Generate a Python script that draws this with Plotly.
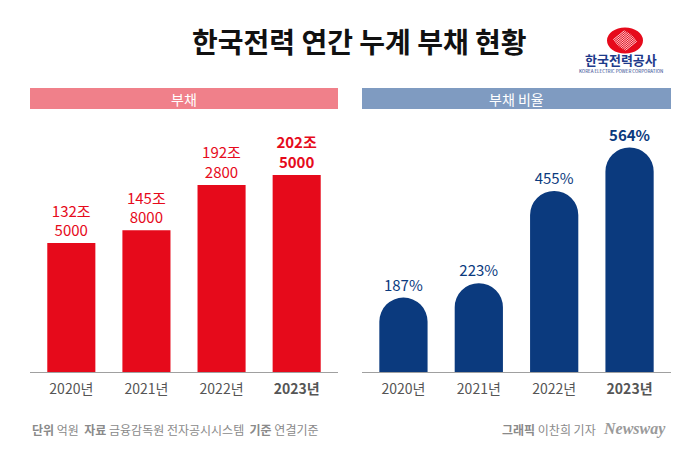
import math
import plotly.graph_objects as go

# ---------------- data ----------------
years = ["2020년", "2021년", "2022년", "2023년"]
debt_eok = [1325000, 1458000, 1922800, 2025000]      # 억원
debt_ratio = [187, 223, 455, 564]                   # %

title_text = "한국전력 연간 누계 부채 현황"
left_header = "부채"
right_header = "부채 비율"

# ---------------- style ----------------
W, H = 700, 450
FONT = "Noto Sans CJK KR"
RED = "#e60a1b"
NAVY = "#0b3a7e"
RED_HDR = "#f0808a"
BLUE_HDR = "#7f9bc1"

def px(x):
    return x / W

def py(y):
    return 1 - y / H

last = len(years) - 1
tick_text = [f"<b>{y}</b>" if i == last else y for i, y in enumerate(years)]
debt_text = []
for i, v in enumerate(debt_eok):
    s = f"{v // 10000}조<br>{v % 10000}"
    debt_text.append(f"<b>{s}</b>" if i == last else s)
ratio_text = [f"<b>{v}%</b>" if i == last else f"{v}%" for i, v in enumerate(debt_ratio)]

fig = go.Figure()
fig.add_trace(go.Bar(
    x=years, y=debt_eok, xaxis="x", yaxis="y",
    marker=dict(color=RED, line=dict(width=0)),
    text=debt_text, textposition="outside",
    textfont=dict(color=RED, size=15, family=FONT),
    cliponaxis=False, hoverinfo="skip", showlegend=False,
))
fig.add_trace(go.Bar(
    x=years, y=debt_ratio, xaxis="x2", yaxis="y2",
    marker=dict(color=NAVY, line=dict(width=0), cornerradius=24),
    text=ratio_text, textposition="outside",
    textfont=dict(color=NAVY, size=15, family=FONT),
    cliponaxis=False, hoverinfo="skip", showlegend=False,
))

y_bottom, y_top = 372, 130
xcommon = dict(
    type="category", range=[-0.55, 3.55], showline=True, linecolor="#a0a0a0",
    linewidth=1, ticks="", showgrid=False, zeroline=False,
    tickfont=dict(size=14, color="#555555", family=FONT),
    tickvals=years, ticktext=tick_text, fixedrange=True,
    ticklabelstandoff=4,
)
ycommon = dict(visible=False, showgrid=False, zeroline=False, fixedrange=True)

fig.update_layout(
    width=W, height=H,
    margin=dict(l=0, r=0, t=0, b=0),
    paper_bgcolor="white", plot_bgcolor="white",
    font=dict(family=FONT),
    bargap=0.36,
    xaxis=dict(domain=[px(30), px(338)], anchor="y", **xcommon),
    yaxis=dict(domain=[py(y_bottom), py(y_top)], anchor="x",
               range=[0, 2487000], **ycommon),
    xaxis2=dict(domain=[px(362), px(671)], anchor="y2", **xcommon),
    yaxis2=dict(domain=[py(y_bottom), py(y_top)], anchor="x2",
                range=[0, 608], **ycommon),
)

shapes = []
annotations = []

# header bars
for (x0, x1, col, txt) in [(30, 338, RED_HDR, left_header), (362, 671, BLUE_HDR, right_header)]:
    shapes.append(dict(type="rect", xref="paper", yref="paper",
                       x0=px(x0), x1=px(x1), y0=py(109), y1=py(88),
                       fillcolor=col, line=dict(width=0), layer="below"))
    annotations.append(dict(text=txt, xref="paper", yref="paper",
                            x=px((x0 + x1) / 2), y=py(98.5), showarrow=False,
                            xanchor="center", yanchor="middle",
                            font=dict(color="white", size=14, family=FONT)))

# title
annotations.append(dict(text=f"<b>{title_text}</b>", xref="paper", yref="paper",
                        x=px(360), y=py(41), showarrow=False,
                        xanchor="center", yanchor="middle",
                        font=dict(color="#111111", size=28, family=FONT)))

# logo
cx, cy, rx, ry = 625, 40.5, 18, 13
shapes.append(dict(type="circle", xref="paper", yref="paper",
                   x0=px(cx - rx), x1=px(cx + rx), y0=py(cy + ry), y1=py(cy - ry),
                   fillcolor=RED, line=dict(width=0)))
dx, dy = 1 / math.sqrt(1 + 0.8 ** 2), -0.8 / math.sqrt(1 + 0.8 ** 2)
nx, ny = -dy, dx
for k in range(-5, 6):
    off = k * 1.6
    ox, oy = cx + nx * off, cy + ny * off
    a = (dx / rx) ** 2 + (dy / ry) ** 2
    b = 2 * ((ox - cx) * dx / rx ** 2 + (oy - cy) * dy / ry ** 2)
    c = ((ox - cx) / rx) ** 2 + ((oy - cy) / ry) ** 2 - 1
    disc = b * b - 4 * a * c
    if disc <= 0:
        continue
    t1 = (-b - math.sqrt(disc)) / (2 * a) * 0.55
    t2 = (-b + math.sqrt(disc)) / (2 * a) * 0.55
    shapes.append(dict(type="line", xref="paper", yref="paper",
                       x0=px(ox + dx * t1), y0=py(oy + dy * t1),
                       x1=px(ox + dx * t2), y1=py(oy + dy * t2),
                       line=dict(color="white", width=0.8)))
annotations.append(dict(text="<b>한국전력공사</b>", xref="paper", yref="paper",
                        x=px(621), y=py(60), showarrow=False,
                        xanchor="center", yanchor="middle",
                        font=dict(color="#1d3a8a", size=13, family=FONT)))
annotations.append(dict(text="KOREA ELECTRIC POWER CORPORATION", xref="paper", yref="paper",
                        x=px(621), y=py(71), showarrow=False,
                        xanchor="center", yanchor="middle",
                        font=dict(color="#1d3a8a", size=4.5, family=FONT)))

# footer
annotations.append(dict(
    text="<b>단위</b> 억원  <b>자료</b> 금융감독원 전자공시시스템  <b>기준</b> 연결기준",
    xref="paper", yref="paper", x=px(30), y=py(429), showarrow=False,
    xanchor="left", yanchor="middle",
    font=dict(color="#8a8a8a", size=12, family=FONT)))
annotations.append(dict(
    text="<b>그래픽</b> 이찬희 기자",
    xref="paper", yref="paper", x=px(598), y=py(429), showarrow=False,
    xanchor="right", yanchor="middle",
    font=dict(color="#8a8a8a", size=12, family=FONT)))
annotations.append(dict(
    text="<b><i>Newsway</i></b>",
    xref="paper", yref="paper", x=px(601), y=py(429), showarrow=False,
    xanchor="left", yanchor="middle",
    font=dict(color="#9a9a9a", size=16, family="Liberation Serif")))

fig.update_layout(shapes=shapes, annotations=annotations)
fig.write_html("out.html",
               config={"displayModeBar": False, "staticPlot": True},
               post_script="document.body.style.margin='0';document.body.style.overflow='hidden';")
